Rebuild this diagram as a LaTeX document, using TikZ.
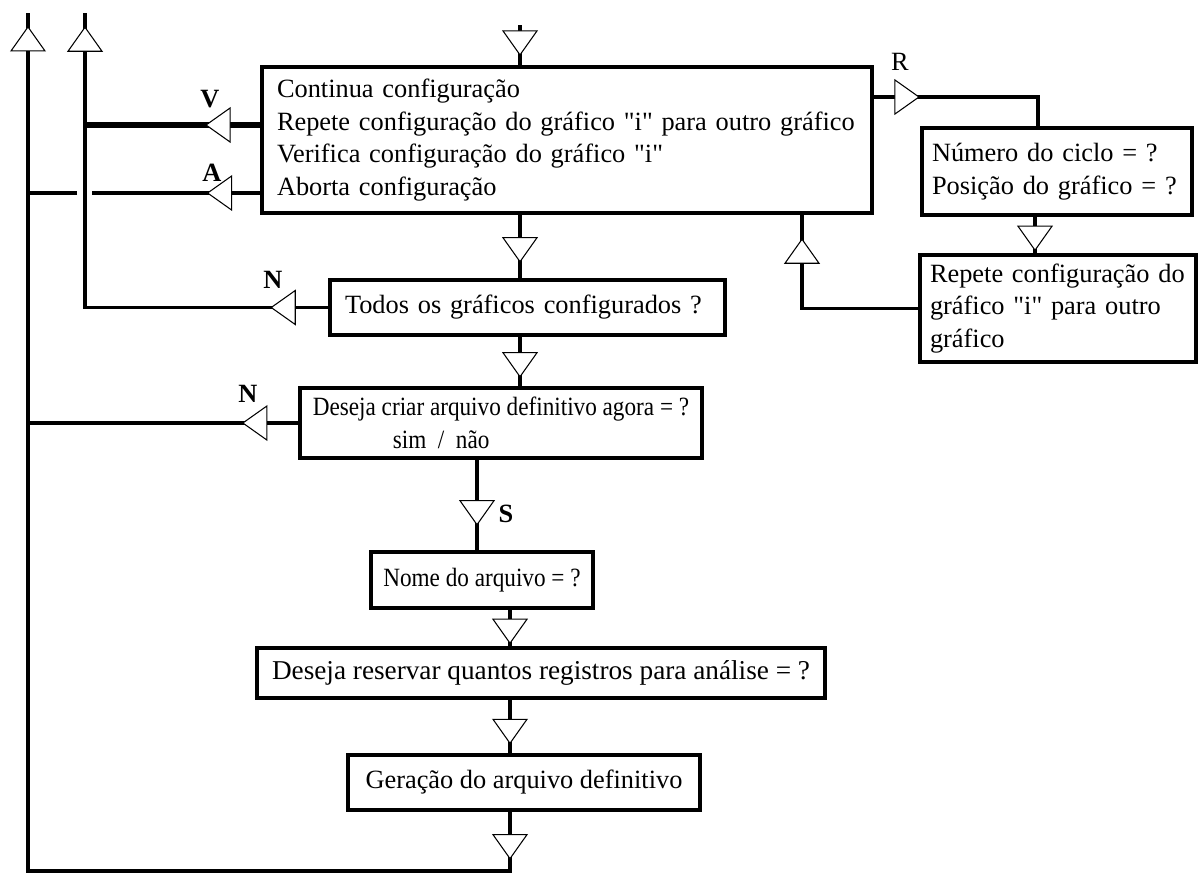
\documentclass[tikz,border=0pt]{standalone}
\usepackage{fontspec}
\setmainfont{Liberation Serif}
\newfontfamily\narrowfont[FakeStretch=0.88]{Liberation Serif}
\usetikzlibrary{shapes.geometric}

\begin{document}
\begin{tikzpicture}[
    box/.style={rectangle, draw, line width=2.6pt, fill=white, inner sep=0pt,
                font=\fontsize{15}{18.5}\selectfont},
    narrow/.style={font=\narrowfont\fontsize{15}{18.5}\selectfont},
    conn/.style={line width=1.9pt},
    tri/.style={isosceles triangle, isosceles triangle stretches=true, draw, fill=white,
                line width=0.6pt, minimum width=0.68cm, minimum height=0.48cm,
                inner sep=0pt, sloped, allow upside down},
    tag/.style={font=\fontsize{15}{18}\selectfont\bfseries}
]
    \useasboundingbox (0,0) rectangle (23.98,-17.48);

    % Menu and the steps below it
    \node[box, text width=11.6cm, inner xsep=0.3cm, minimum height=2.92cm, align=left] (cfg) at (11.34,-2.80)
        {Continua configuração\\Repete configuração do gráfico \textquotedbl i\textquotedbl{} para outro gráfico\\
         Verifica configuração do gráfico \textquotedbl i\textquotedbl\\Aborta configuração};
    \node[box, text width=7.3cm, inner xsep=0.3cm, minimum height=1.1cm, align=left] (todos) at (10.55,-6.15)
        {Todos os gráficos configurados ?};
    \node[box, narrow, minimum width=8.04cm, minimum height=1.4cm, align=left] (criar) at (10.02,-8.46)
        {Deseja criar arquivo definitivo agora = ?\\\hspace*{1.6cm}sim~~/~~não};
    \node[box, narrow, minimum width=4.44cm, minimum height=1.12cm] (nome) at (9.64,-11.6) {Nome do arquivo = ?};
    \node[box, font=\fontsize{15.5}{18.5}\selectfont, minimum width=11.36cm, minimum height=1.0cm] (reserva) at (10.82,-13.46)
        {Deseja reservar quantos registros para análise = ?};
    \node[box, minimum width=7.04cm, minimum height=1.1cm] (geracao) at (10.48,-15.65) {Geração do arquivo definitivo};

    % Repeat branch on the right
    \node[box, text width=5.0cm, inner xsep=0.2cm, minimum height=1.74cm, align=left] (ciclo) at (21.14,-3.43)
        {Número do ciclo = ?\\Posição do gráfico = ?};
    \node[box, text width=5.12cm, inner xsep=0.2cm, minimum height=2.14cm, align=left] (repete) at (21.16,-6.17)
        {Repete configuração do\\gráfico \textquotedbl i\textquotedbl{} para outro\\gráfico};

    % x positions of the vertical runs
    \coordinate (topO) at (0.56,-0.26);
    \coordinate (topI) at (1.70,-0.26);
    \coordinate (base) at (0.56,-17.42);
    \coordinate (entry) at (10.4,-0.5);
    \coordinate (spine) at (10.4,0);
    \coordinate (sline) at (9.54,0);
    \coordinate (lspine) at (10.2,0);
    \coordinate (rturn) at (20.76,0);
    \coordinate (rdown) at (20.7,0);
    \coordinate (rback) at (16.04,0);
    \coordinate (gapR) at (1.84,0);
    \coordinate (gapL) at (1.54,0);
    \coordinate (vrow) at ([yshift=3mm]cfg.west);
    \coordinate (arow) at ([yshift=-10.6mm]cfg.west);
    \coordinate (rrow) at ([yshift=8.6mm]cfg.east);

    % Main column
    \draw[conn] (entry) -- node[tri, pos=.37] (t0) {} (cfg.north -| entry);
    \draw[conn] (cfg.south -| spine) -- node[tri] (t1) {} (todos.north -| spine);
    \draw[conn] (todos.south -| spine) -- node[tri] (t2) {} (criar.north -| spine);
    \draw[conn] (criar.south -| sline) -- node[tri, pos=.55] (t3) {} (nome.north -| sline);
    \draw[conn] (nome.south -| lspine) -- node[tri] (t4) {} (reserva.north -| lspine);
    \draw[conn] (reserva.south -| lspine) -- node[tri, pos=.53] (t5) {} (geracao.north -| lspine);
    \draw[conn] (geracao.south -| lspine) -- node[tri, pos=.53] (t6) {} (base -| lspine) -- (base)
        -- node[tri, pos=.966] (t7) {} (topO);

    % R: repeat for another graph
    \draw[conn] (rrow) -- node[tri, pos=.18] (t8) {} (rrow -| rturn) -- (ciclo.north -| rturn);
    \draw[conn] (ciclo.south -| rdown) -- node[tri] (t9) {} (repete.north -| rdown);
    \draw[conn] (repete.west) -- (repete.west -| rback) -- node[tri, pos=.58] (t10) {} (cfg.south -| rback);

    % V, A and the two N exits
    \draw[conn, line width=3pt] (vrow) -- node[tri, pos=.22] (t11) {} (vrow -| topI);
    \draw[conn] (arow) -- node[tri, pos=.22] (t12) {} (arow -| gapR) (arow -| gapL) -- (arow -| topO);
    \draw[conn] (todos.west) -- node[tri, pos=.17] (t13) {} (todos.west -| topI)
        -- node[tri, pos=.9] (t14) {} (topI);
    \draw[conn] (criar.west) -- node[tri, pos=.147] (t15) {} (criar.west -| topO);

    % Branch labels
    \node[tag] (lv) at (4.2,-1.98) {V};
    \node[tag] (la) at (4.24,-3.46) {A};
    \node[tag] (ln1) at (5.46,-5.6) {N};
    \node[tag] (ln2) at (4.96,-7.88) {N};
    \node[tag] (ls) at (10.12,-10.28) {S};
    \node[font=\fontsize{15}{18}\selectfont] (lr) at (18.0,-1.24) {R};
\end{tikzpicture}
\end{document}
